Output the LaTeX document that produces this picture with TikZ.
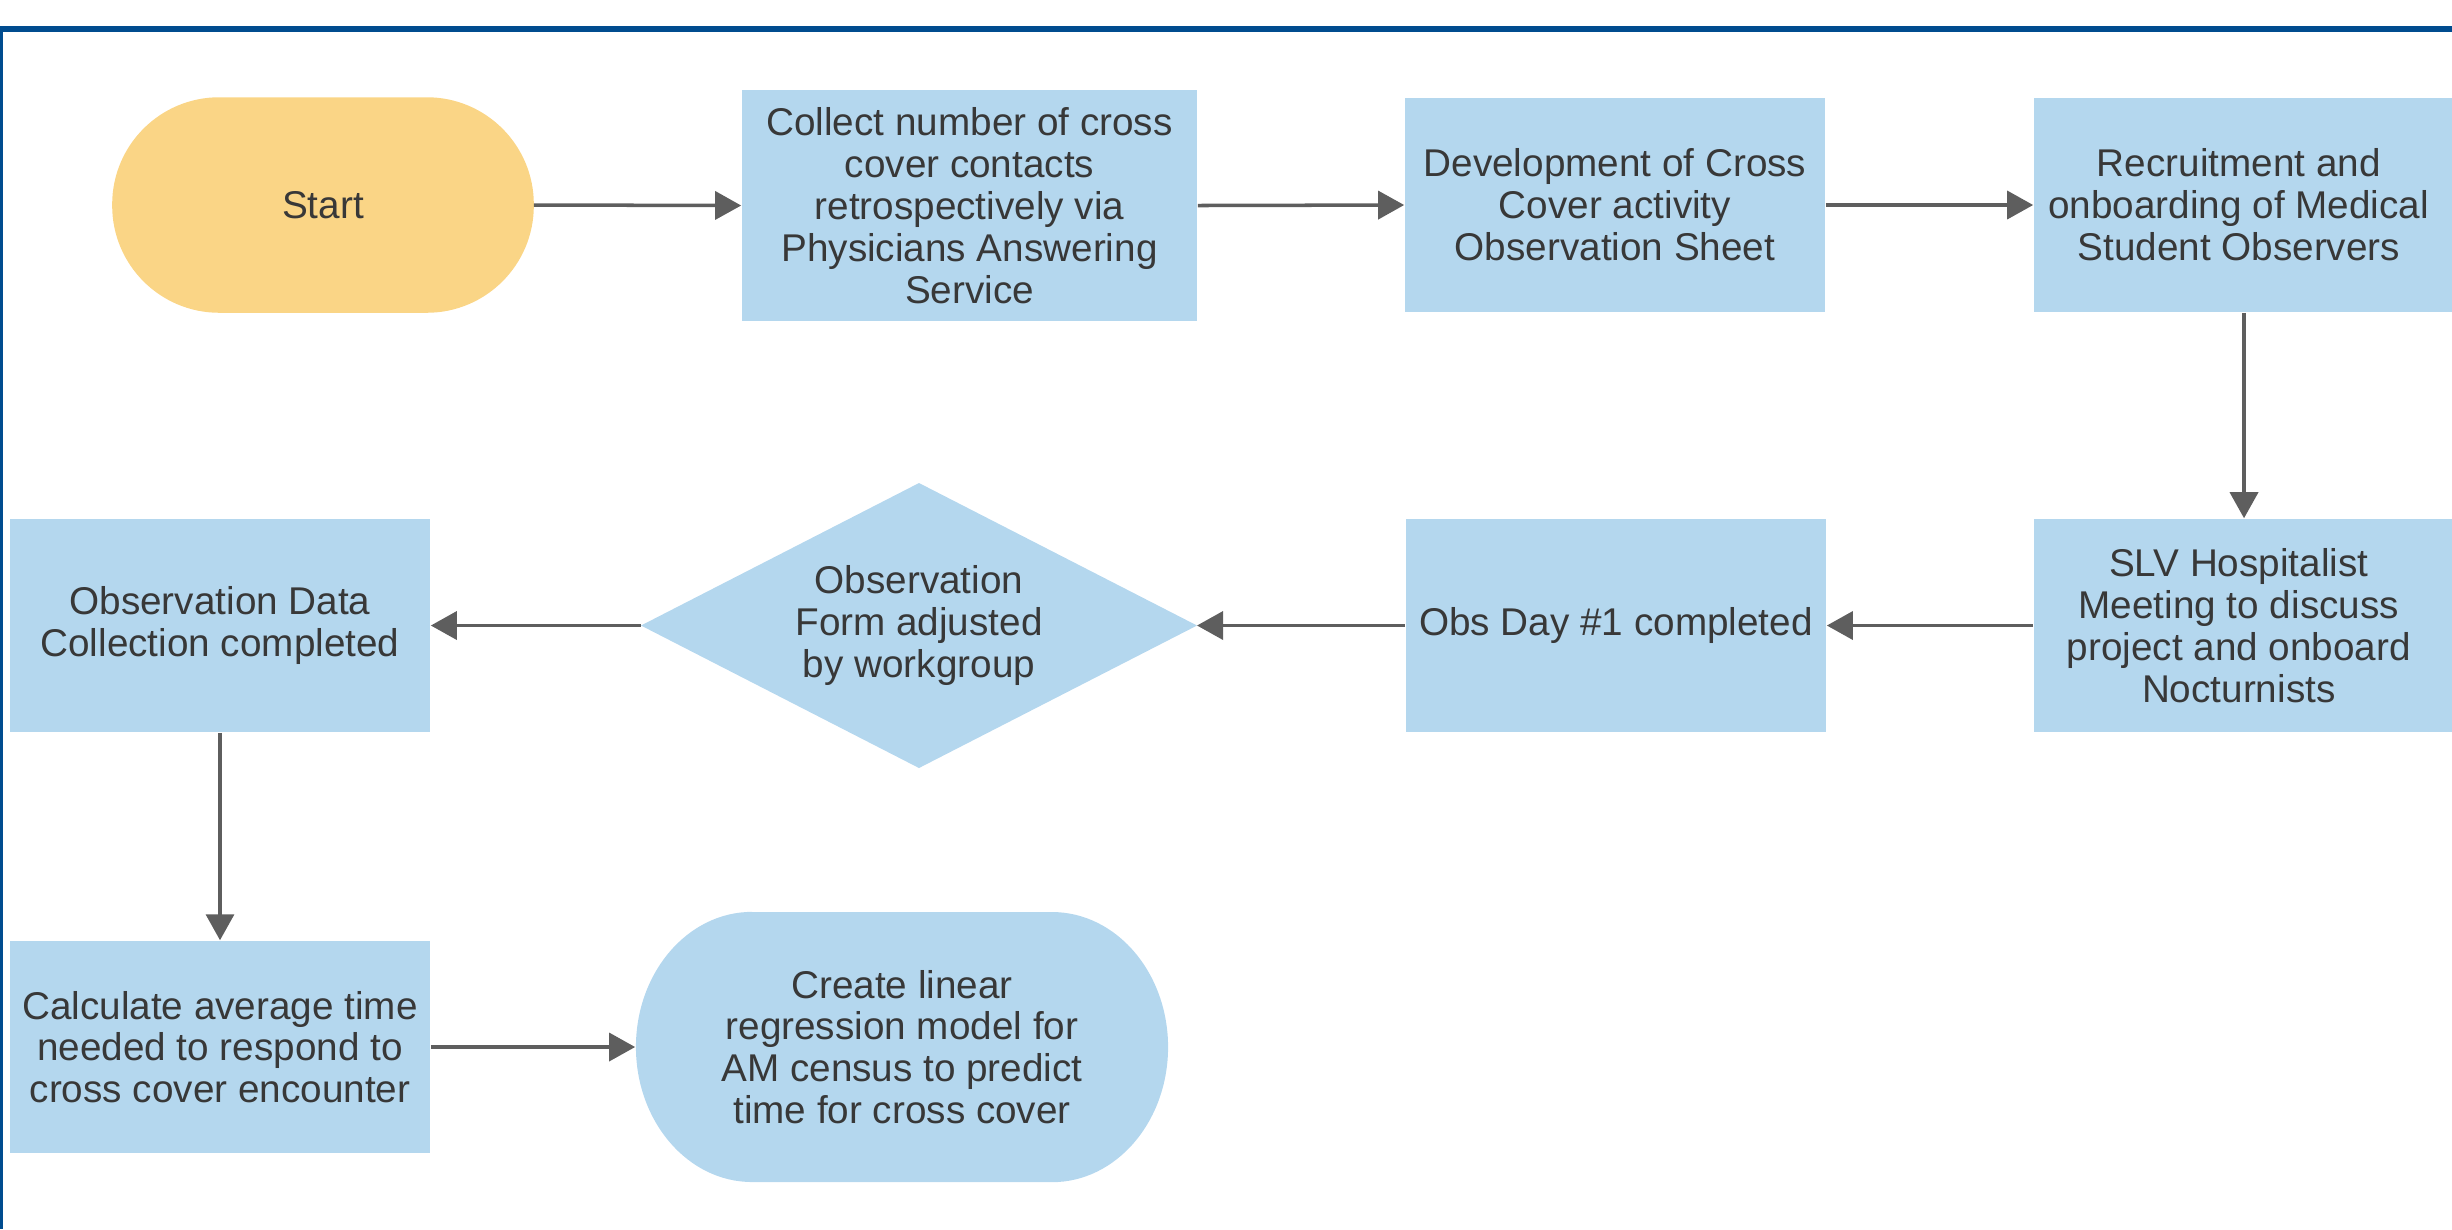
\documentclass[tikz,border=0pt]{standalone}
\usepackage{fontspec}
\setmainfont{Liberation Sans}
\usetikzlibrary{arrows.meta,backgrounds}
\definecolor{boxblue}{HTML}{B4D7EE}
\definecolor{startyellow}{HTML}{FAD586}
\definecolor{frameblue}{HTML}{004C8F}
\definecolor{arrowgray}{HTML}{5E5E5E}
\definecolor{txtgray}{HTML}{383838}
\tikzset{
  base/.style={inner sep=0pt, align=center, text=txtgray,
    font=\fontsize{11}{11.9}\selectfont},
  procbox/.style={base, rectangle, fill=boxblue},
  termnode/.style={base, rectangle},
  decision/.style={base},
  conn/.style={draw=arrowgray, line width=1pt,
    -{Triangle[length=0.26cm, width=0.28cm]}},
}
\begin{document}
\begin{tikzpicture}[x=0.01cm, y=-0.01cm]
\clip (0,0) rectangle (2452,1229);
\useasboundingbox (0,0) rectangle (2452,1229);
% frame
\fill[frameblue] (0,26) rectangle (2452,32);
\fill[frameblue] (0,26) rectangle (3,1229);

% row 1
\node[termnode, minimum width=4.2cm, minimum height=2.14cm] (start) at (323,205) {Start};
\node[procbox, minimum width=4.55cm, minimum height=2.31cm] (collect) at (969.5,205.5)
  {Collect number of cross\\cover contacts\\retrospectively via\\Physicians Answering\\Service};
\node[procbox, minimum width=4.2cm, minimum height=2.14cm] (develop) at (1615,205)
  {Development of Cross\\Cover activity\\Observation Sheet};
\node[procbox, minimum width=4.2cm, minimum height=2.14cm] (recruit) at (2244,205)
  {\hspace*{-3pt}Recruitment and\\\hspace*{-3pt}onboarding of Medical\\\hspace*{-3pt}Student Observers};

% row 2
\node[procbox, minimum width=4.2cm, minimum height=2.13cm] (slv) at (2244,625.5)
  {\hspace*{-3pt}SLV Hospitalist\\\hspace*{-3pt}Meeting to discuss\\\hspace*{-3pt}project and onboard\\\hspace*{-3pt}Nocturnists};
\node[procbox, minimum width=4.2cm, minimum height=2.13cm] (obsday) at (1616,625.5)
  {Obs Day \#1 completed};
\coordinate (dC) at (919,625.5);
\node[decision] (diam) at (dC) {Observation\\Form adjusted\\by workgroup};
\coordinate (dE) at (1197,625.5);
\coordinate (dW) at (641,625.5);
\coordinate (dN) at (919,483);
\coordinate (dS) at (919,768);
\begin{scope}[on background layer]
\fill[boxblue] (dE) -- (dN) -- (dW) -- (dS) -- cycle;
\end{scope}
\node[procbox, minimum width=4.2cm, minimum height=2.13cm] (obsdata) at (220,625.5)
  {Observation Data\\Collection completed};

% row 3
\node[procbox, minimum width=4.2cm, minimum height=2.12cm] (calc) at (220,1047)
  {Calculate average time\\needed to respond to\\cross cover encounter};
\node[termnode, minimum width=5.32cm, minimum height=2.7cm] (create) at (902,1047)
  {Create linear\\regression model for\\AM census to predict\\time for cross cover};

\begin{scope}[on background layer]
\fill[startyellow, rounded corners=1.07cm] (start.north west) rectangle (start.south east);
\fill[boxblue] (752,912) -- (1052,912)
  arc[start angle=90, end angle=-90, x radius=1.16cm, y radius=1.35cm]
  -- (752,1182)
  arc[start angle=270, end angle=90, x radius=1.16cm, y radius=1.35cm] -- cycle;
\end{scope}

% connectors
\draw[conn] (start.east) -- (collect.west);
\draw[conn] (collect.east) -- (develop.west);
\draw[conn] (develop.east) -- (recruit.west);
\draw[conn] (recruit.south) -- (slv.north);
\draw[conn] (slv.west) -- (obsday.east);
\draw[conn] (obsday.west) -- (dE);
\draw[conn] (dW) -- (obsdata.east);
\draw[conn] (obsdata.south) -- (calc.north);
\draw[conn] (calc.east) -- (create.west);
\end{tikzpicture}
\end{document}
